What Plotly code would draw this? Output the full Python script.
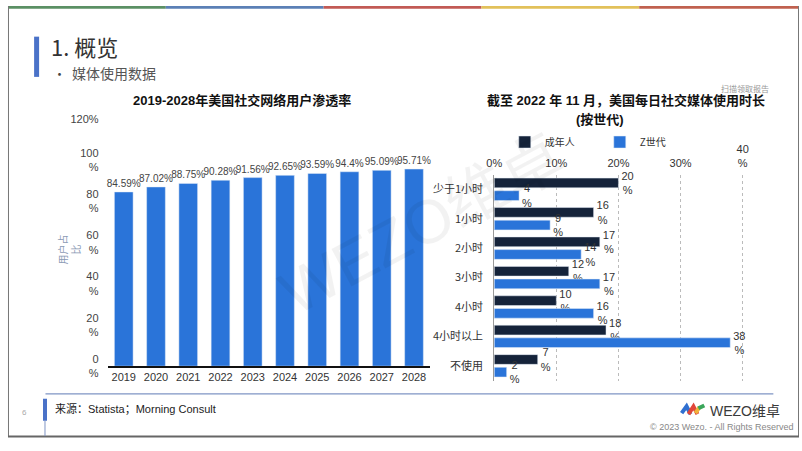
import plotly.graph_objects as go

W, H = 802, 451
FONT = "Liberation Sans, Noto Sans CJK SC, sans-serif"
CJK = "Noto Sans CJK SC, sans-serif"

# ---- data ----
years = ["2019", "2020", "2021", "2022", "2023", "2024", "2025", "2026", "2027", "2028"]
penetration = [84.59, 87.02, 88.75, 90.28, 91.56, 92.65, 93.59, 94.4, 95.09, 95.71]
pen_ticks = [0, 20, 40, 60, 80, 100, 120]
pen_ticktext = ["0<br>%", "20<br>%", "40<br>%", "60<br>%", "80<br>%", "100<br>%", "120%"]

usage_cats = ["少于1小时", "1小时", "2小时", "3小时", "4小时", "4小时以上", "不使用"]
adults = [20, 16, 17, 12, 10, 18, 7]
genz = [4, 9, 14, 17, 16, 38, 2]
usage_ticks = [0, 10, 20, 30, 40]
usage_ticktext = ["0%", "10%", "20%", "30%", "40<br>%"]


def px(x):
    return x / W


def py(y):
    return 1 - y / H


fig = go.Figure()

fig.add_trace(go.Bar(
    x=years, y=penetration, xaxis="x", yaxis="y",
    marker_color="#2a74d9", width=0.58, showlegend=False,
    text=[f"{v}%" for v in penetration], textposition="outside",
    textfont=dict(size=10, color="#444", family=FONT),
    cliponaxis=False, constraintext="none", hoverinfo="skip",
))

fig.add_trace(go.Bar(
    y=usage_cats, x=adults, orientation="h", xaxis="x2", yaxis="y2",
    name="成年人", marker_color="#15233a", width=0.33, offset=-0.38,
    text=[f"{v}<br>%" for v in adults], textposition="outside",
    textfont=dict(size=11, color="#333", family=FONT),
    cliponaxis=False, constraintext="none",
))
fig.add_trace(go.Bar(
    y=usage_cats, x=genz, orientation="h", xaxis="x2", yaxis="y2",
    name="Z世代", marker_color="#2a74d9", width=0.33, offset=0.05,
    text=[f"{v}<br>%" for v in genz], textposition="outside",
    textfont=dict(size=11, color="#333", family=FONT),
    cliponaxis=False, constraintext="none",
))

shapes = []
# top colour strip
for x0, x1, c in [(0, 160, "#5b9064"), (160, 320, "#5b80b6"), (320, 480, "#c25a55"),
                  (480, 640, "#e2c15a"), (640, 802, "#c0614f")]:
    shapes.append(dict(type="rect", xref="paper", yref="paper", x0=px(x0), x1=px(x1),
                       y0=py(3), y1=py(0), fillcolor=c, line_width=0, layer="above"))
# slide border
shapes.append(dict(type="line", xref="paper", yref="paper", x0=px(0.5), x1=px(0.5), y0=py(0), y1=py(450),
                   line=dict(color="#777", width=1)))
shapes.append(dict(type="line", xref="paper", yref="paper", x0=px(801.5), x1=px(801.5), y0=py(0), y1=py(450),
                   line=dict(color="#777", width=1)))
shapes.append(dict(type="line", xref="paper", yref="paper", x0=px(0), x1=px(802), y0=py(449.5), y1=py(449.5),
                   line=dict(color="#666", width=2)))
# header accent bar
shapes.append(dict(type="line", xref="paper", yref="paper", x0=px(29), x1=px(29), y0=py(32), y1=py(74),
                   line=dict(color="#4a72c8", width=5)))
# footer line and accent
shapes.append(dict(type="line", xref="paper", yref="paper", x0=px(38), x1=px(776), y0=py(405), y1=py(405),
                   line=dict(color="#7f95c4", width=1.2)))
shapes.append(dict(type="line", xref="paper", yref="paper", x0=px(37.5), x1=px(37.5), y0=py(410), y1=py(433),
                   line=dict(color="#4a72c8", width=4)))
shapes.append(dict(type="line", xref="paper", yref="paper", x0=px(37.5), x1=px(37.5), y0=py(433), y1=py(449),
                   line=dict(color="#7f95c4", width=1)))
# logo swoosh
for path, c in [
    (f"M {px(683)},{py(425)} L {px(688)},{py(418)} L {px(692)},{py(426)}", "#2f6fd0"),
    (f"M {px(690)},{py(426)} L {px(695)},{py(418)} L {px(699)},{py(426)}", "#e0463a"),
    (f"M {px(697)},{py(425)} L {px(701)},{py(419)}", "#f0b23a"),
    (f"M {px(700)},{py(420)} L {px(706)},{py(417)}", "#3aa65a"),
]:
    shapes.append(dict(type="path", xref="paper", yref="paper", path=path,
                       line=dict(color=c, width=4)))

ann = []


def text(x, y, s, size, color="#333", xanchor="left", yanchor="middle", family=CJK, angle=0, **kw):
    ann.append(dict(x=px(x), y=py(y), xref="paper", yref="paper", text=s, showarrow=False,
                    xanchor=xanchor, yanchor=yanchor, textangle=angle,
                    font=dict(size=size, color=color, family=family), **kw))


# watermark
text(420, 228, "WEZO维卓", 62, color="rgba(0,0,0,0.05)", xanchor="center", family=FONT, angle=-28)

text(42, 42, "1. 概览", 22, color="#333")
text(44, 70, "•", 13, color="#444")
text(63, 70, "媒体使用数据", 14, color="#555")
text(774, 86, "扫描领取报告", 8, color="#999", xanchor="right")
text(237, 99, "<b>2019-2028年美国社交网络用户渗透率</b>", 13, color="#111", xanchor="center", family=FONT)
text(627, 99, "<b>截至 2022 年 11 月，美国每日社交媒体使用时长</b>", 13, color="#111", xanchor="center", family=FONT)
text(600, 118, "<b>(按世代)</b>", 13, color="#111", xanchor="center", family=FONT)
text(62, 254, "用户占<br>比", 10, color="#8b9ab5", xanchor="center", angle=-90)
text(17, 424, "6", 8, color="#aaa", xanchor="center", family=FONT)
text(46, 420, "来源：Statista；Morning Consult", 11, color="#222", family=FONT)
text(710, 423, "WEZO维卓", 14, color="#3a3a3a", family=FONT)
text(799, 440, "© 2023 Wezo. - All Rights Reserved", 9, color="#888", xanchor="right", family=FONT)

fig.update_layout(
    width=W, height=H, autosize=False,
    margin=dict(l=0, r=0, t=0, b=0),
    paper_bgcolor="white", plot_bgcolor="rgba(0,0,0,0)",
    font=dict(family=FONT, size=11, color="#333"),
    barmode="overlay",
    shapes=shapes, annotations=ann,
    legend=dict(orientation="h", x=px(600), y=py(142), xanchor="center", yanchor="middle",
                font=dict(size=10, color="#333", family=CJK), itemwidth=30,
                entrywidth=50, bgcolor="rgba(0,0,0,0)"),
    xaxis=dict(domain=[px(101), px(428)], anchor="y", type="category",
               showline=True, linecolor="#111", linewidth=2, ticks="",
               tickfont=dict(size=11, color="#333"), showgrid=False),
    yaxis=dict(domain=[py(376), py(118)], anchor="x", range=[0, 120],
               tickvals=pen_ticks, ticktext=pen_ticktext, showgrid=False,
               zeroline=False, tickfont=dict(size=11, color="#444"), ticklabelstandoff=8),
    xaxis2=dict(domain=[px(493), px(748)], anchor="y2", side="top", range=[0, 40.5],
                tickvals=usage_ticks, ticktext=usage_ticktext,
                showgrid=True, gridcolor="#bbbbbb", griddash="dot", gridwidth=1,
                zeroline=False, showline=False, ticks="", ticklabelstandoff=4,
                tickfont=dict(size=11, color="#333")),
    yaxis2=dict(domain=[py(391), py(176)], anchor="x2", type="category",
                autorange="reversed", showline=True, linecolor="#999", linewidth=1,
                ticks="", tickfont=dict(size=11, color="#333", family=CJK),
                ticklabelstandoff=8),
)

fig.write_html(
    "out.html",
    config={"displayModeBar": False},
    post_script="document.body.style.margin='0';document.body.style.overflow='hidden';",
)
